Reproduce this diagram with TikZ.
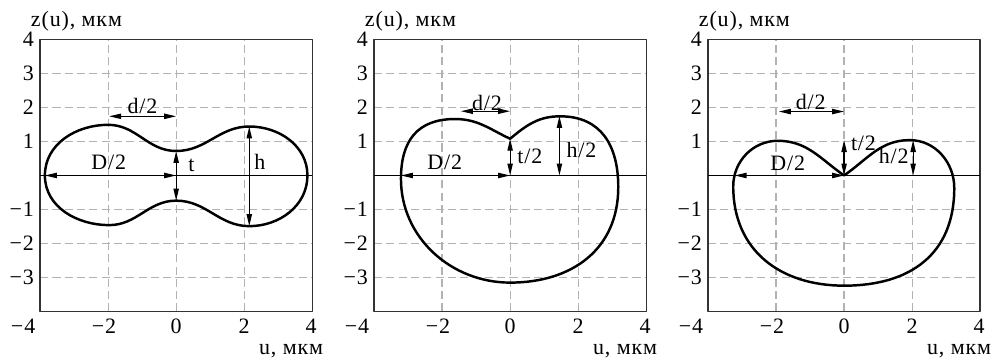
\documentclass[tikz,border=0pt]{standalone}
\usepackage{fontspec}
\setmainfont{Liberation Serif}[LetterSpace=4]
\usetikzlibrary{arrows.meta}

\begin{document}
\begin{tikzpicture}[x=0.68cm, y=0.68cm, >={Triangle[length=6.8pt, width=3pt]}, line join=round,
  font=\fontsize{12.5}{15}\selectfont,
  gridline/.style={black!30, line width=0.7pt, dash pattern=on 4.6pt off 2.4pt},
  frameline/.style={black!80, line width=0.75pt},
  profile/.style={line width=1.4pt},
  dim/.style={<->, line width=0.7pt},
  tick/.style={inner sep=1pt}]
  \useasboundingbox (-5.18,-5.34) rectangle (23.96,5.16);
  % frames, grid and tick labels of the three panels
  \foreach \p in {0,1,2} {
    \begin{scope}[shift={(9.82*\p,0)}]
      \foreach \g in {-3,-2,-1,1,2,3} \draw[gridline] (-4,\g) -- (4,\g);
      \foreach \g in {-2,0,2} \draw[gridline] (\g,-4) -- (\g,4);
      \draw[frameline] (-4,-4) rectangle (4,4);
      \draw[line width=0.6pt] (-4,0) -- (4,0);
      \foreach \y/\t in {4/4, 3/3, 2/2, 1/1, -1/−1, -2/−2, -3/−3}
        \node[tick, anchor=east] (yt\p\y) at (-4.12,\y) {\t};
      \foreach \x/\u/\t in {-4.5/-4/−4, -2.12/-2/−2, 0/0/0, 2/2/2, 3.97/4/4}
        \node[tick, anchor=base] (xt\p\u) at (\x,-4.66) {\t};
      \node[anchor=base west, inner sep=0pt] (zlab\p) at (-4.28,4.38) {z(u), мкм};
      \node[anchor=base east, inner sep=0pt] (ulab\p) at (4.33,-5.25) {u, мкм};
    \end{scope}
  }

  % panel 1: biconcave profile
  \draw[profile] (0,0.72) to[out=0,in=180] (2.15,1.44) to[out=0,in=90] (3.86,0)
    to[out=-90,in=0] (2.15,-1.49) to[out=180,in=0] (0,-0.74) to[out=180,in=0] (-1.97,-1.46)
    to[out=180,in=-90] (-3.86,0) to[out=90,in=180] (-2,1.49) to[out=0,in=180] (0,0.72) -- cycle;
  \coordinate (dl1) at (-1.97,1.74); \coordinate (dr1) at (0,1.74);
  \coordinate (Dl1) at (-3.86,0);    \coordinate (Dr1) at (0,0);
  \coordinate (tb1) at (0,-0.74);    \coordinate (tt1) at (0,0.72);
  \coordinate (hb1) at (2.15,-1.49); \coordinate (ht1) at (2.15,1.44);
  \draw[dim] (dl1) -- (dr1);
  \draw[dim] (Dl1) -- (Dr1);
  \draw[dim] (tb1) -- (tt1);
  \draw[dim] (hb1) -- (ht1);
  \node (dlab1) at (-0.99,2.05) {d/2};
  \node (Dlab1) at (-1.98,0.39) {D/2};
  \node (tlab1) at (0.45,0.29) {t};
  \node (hlab1) at (2.46,0.41) {h};

  % panel 2: profile with a shallow dimple
  \begin{scope}[shift={(9.82,0)}]
    \draw[profile] (0,1.08) to[out=155,in=0] (-1.62,1.66) to[out=180,in=90,looseness=1.2] (-3.21,-0.1)
      to[out=-90,in=180] (0,-3.15) to[out=0,in=-90,looseness=1.1] (3.18,-0.34)
      to[out=90,in=0,looseness=1.15] (1.47,1.74) to[out=180,in=40] (0,1.08) -- cycle;
    \coordinate (dl2) at (-1.45,1.89); \coordinate (dr2) at (0,1.89);
    \coordinate (Dl2) at (-3.21,0);    \coordinate (Dr2) at (0,0);
    \coordinate (tt2) at (0,1.08);
    \coordinate (hb2) at (1.45,0);     \coordinate (ht2) at (1.45,1.75);
    \draw[dim] (dl2) -- (dr2);
    \draw[dim] (Dl2) -- (Dr2);
    \draw[dim] (Dr2) -- (tt2);
    \draw[dim] (hb2) -- (ht2);
    \node (dlab2) at (-0.68,2.12) {d/2};
    \node (Dlab2) at (-1.92,0.39) {D/2};
    \node (tlab2) at (0.58,0.55) {t/2};
    \node (hlab2) at (2.1,0.75) {h/2};
  \end{scope}

  % panel 3: profile with a cusp at the origin
  \begin{scope}[shift={(19.64,0)}]
    \draw[profile] (0,0) to[out=145,in=0] (-1.95,1.02) to[out=180,in=90] (-3.26,-0.32)
      to[out=-90,in=180,looseness=1.1] (0,-3.24) to[out=0,in=-90,looseness=1.15] (3.24,-0.37)
      to[out=90,in=0] (1.93,1.04) to[out=180,in=35] (0,0) -- cycle;
    \coordinate (dl3) at (-1.92,1.88); \coordinate (dr3) at (0,1.88);
    \coordinate (Dl3) at (-3.22,0);    \coordinate (Dr3) at (0,0);
    \coordinate (tt3) at (0,1.04);
    \coordinate (hb3) at (2.03,0);     \coordinate (ht3) at (2.03,1.04);
    \draw[dim] (dl3) -- (dr3);
    \draw[dim] (Dl3) -- (Dr3);
    \draw[dim] (Dr3) -- (tt3);
    \draw[dim] (hb3) -- (ht3);
    \node (dlab3) at (-0.98,2.17) {d/2};
    \node (Dlab3) at (-1.66,0.36) {D/2};
    \node (tlab3) at (0.57,0.95) {t/2};
    \node (hlab3) at (1.46,0.58) {h/2};
  \end{scope}
\end{tikzpicture}
\end{document}
